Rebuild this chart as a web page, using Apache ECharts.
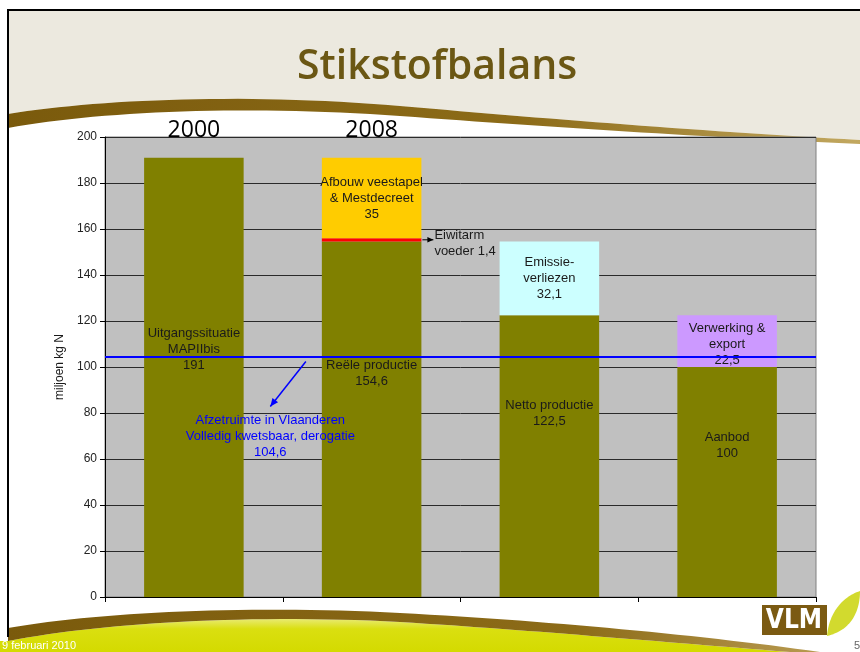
<!DOCTYPE html>
<html><head><meta charset="utf-8">
<script src="https://cdn.jsdelivr.net/npm/echarts@6/dist/echarts.min.js"></script>
<style>html,body{margin:0;padding:0;background:#fff}#c{width:860px;height:652px}</style>
</head><body><div id="c"></div>
<script>
// ---- data ----
const categories = ['Uitgangssituatie', 'Reële productie', 'Netto productie', 'Aanbod'];
const yearLabels = ['2000', '2008', '', ''];
const baseNames = ['Uitgangssituatie\nMAPIIbis', 'Reële productie', 'Netto productie', 'Aanbod'];
const baseValues = [191, 154.6, 122.5, 100];
const eiwitarmValues = ['-', 1.4, '-', '-'];
const afbouwValues = ['-', 35, '-', '-'];
const emissieValues = ['-', '-', 32.1, '-'];
const verwerkingValues = ['-', '-', '-', 22.5];
const afzetruimte = 104.6;
const yMin = 0, yMax = 200, yInterval = 20;

// ---- layout (pixels, not data) ----
const baseLabelShift = [-28, -46, -43, -37];

const fmt = v => String(v).replace('.', ',');
const FONT = '"Liberation Sans", Arial, sans-serif';
const labelBase = { show: true, color: '#1a1a1a', fontFamily: FONT, fontSize: 13, lineHeight: 16 };

const chart = echarts.init(document.getElementById('c'));

// decorative slide shapes: cubic bezier sampling
function bez(p0, p1, p2, p3, n) {
  const out = [];
  for (let k = 0; k <= n; k++) {
    const t = k / n, u = 1 - t;
    out.push([u*u*u*p0[0] + 3*u*u*t*p1[0] + 3*u*t*t*p2[0] + t*t*t*p3[0],
              u*u*u*p0[1] + 3*u*u*t*p1[1] + 3*u*t*t*p2[1] + t*t*t*p3[1]]);
  }
  return out;
}
function curve(pts) {
  let out = [pts[0]];
  for (let i = 1; i + 2 < pts.length; i += 3) {
    out = out.concat(bez(out[out.length - 1], pts[i], pts[i + 1], pts[i + 2], 30).slice(1));
  }
  return out;
}
const topUpper = curve([[8,114],[100,99],[250,93],[400,106],[550,119],[700,131],[860,140]]);
const topLower = curve([[8,128],[100,111],[250,105],[400,116],[550,127],[700,137],[860,144]]);
const botUpper = curve([[8,628],[100,612],[250,605],[400,613],[550,621],[700,635],[820,652]]);
const botLower = curve([[8,641],[100,623],[250,614],[400,622],[530,630],[650,641],[790,652]]);
const leaf = curve([[827,636],[829,613],[842,597],[860,591],[860,614],[849,631],[827,636]]);

const bg = [
  { type: 'polygon', z: -100, shape: { points: [[8,10],[860,10]].concat(topUpper.slice().reverse()) }, style: { fill: '#ECE9DF' } },
  { type: 'polygon', z: -99, shape: { points: topUpper.concat(topLower.slice().reverse()) },
    style: { fill: new echarts.graphic.LinearGradient(0, 0, 1, 0, [{ offset: 0, color: '#7A5A0C' }, { offset: 0.6, color: '#8C6B18' }, { offset: 1, color: '#C2A860' }]) } },
  { type: 'polygon', z: -100, shape: { points: botLower.concat([[0,652],[0,641]]) },
    style: { fill: new echarts.graphic.LinearGradient(0, 0, 0, 1, [{ offset: 0, color: '#E8EA70' }, { offset: 0.3, color: '#DADF10' }, { offset: 1, color: '#D4DA00' }]) } },
  { type: 'polygon', z: -99, shape: { points: botUpper.concat(botLower.slice().reverse()) },
    style: { fill: new echarts.graphic.LinearGradient(0, 0, 1, 0, [{ offset: 0, color: '#7A5A0C' }, { offset: 0.7, color: '#8C6B18' }, { offset: 1, color: '#B89A50' }]) } },
  { type: 'line', z: -90, shape: { x1: 8, y1: 10, x2: 8, y2: 637 }, style: { stroke: '#000', lineWidth: 2 } },
  { type: 'line', z: -90, shape: { x1: 7, y1: 10, x2: 860, y2: 10 }, style: { stroke: '#000', lineWidth: 2 } },
  { type: 'rect', z: -90, shape: { x: 762, y: 605, width: 65, height: 30 }, style: { fill: '#7B5A12' } },
  { type: 'text', z: -89, style: { x: 794, y: 621, text: 'VLM', fill: '#fff', font: 'bold 26px "Liberation Sans Narrow", "DejaVu Sans Condensed", sans-serif', textAlign: 'center', textVerticalAlign: 'middle' } },
  { type: 'polygon', z: -90, shape: { points: leaf }, style: { fill: '#D2DA2E' } },
  { type: 'text', z: -80, style: { x: 2, y: 646, text: '9 februari 2010', fill: '#fff', font: '11px "Liberation Sans Narrow", sans-serif', textVerticalAlign: 'middle' } },
  { type: 'text', z: -80, style: { x: 854, y: 646, text: '5', fill: '#666', font: '11px "Liberation Sans Narrow", sans-serif', textVerticalAlign: 'middle' } }
];

chart.setOption({
  animation: false,
  backgroundColor: '#fff',
  title: {
    text: 'Stikstofbalans', left: 292, top: 42,
    textStyle: { fontFamily: '"Open Sans", sans-serif', fontWeight: 600, fontSize: 41, color: '#6B5714' }
  },
  grid: { left: 105, right: 44, top: 137, bottom: 55, show: true, backgroundColor: '#C0C0C0', borderColor: '#808080', borderWidth: 1 },
  xAxis: [
    { type: 'category', data: categories, position: 'bottom',
      axisLine: { lineStyle: { color: '#000', width: 1 } },
      axisTick: { show: true, length: 5, lineStyle: { color: '#000' } },
      axisLabel: { show: false }, splitLine: { show: false } },
    { type: 'category', data: yearLabels, position: 'top',
      axisLine: { show: false }, axisTick: { show: false },
      axisLabel: { show: true, margin: -5, fontSize: 23, color: '#000', fontFamily: '"Open Sans", sans-serif' } }
  ],
  yAxis: {
    type: 'value', min: yMin, max: yMax, interval: yInterval,
    name: 'miljoen kg N', nameLocation: 'middle', nameGap: 35,
    nameTextStyle: { fontFamily: FONT, fontSize: 12, color: '#1a1a1a' },
    axisLine: { show: true, lineStyle: { color: '#000' } },
    axisTick: { show: true, length: 5, lineStyle: { color: '#000' } },
    axisLabel: { fontFamily: FONT, fontSize: 12, color: '#222', margin: 8 },
    splitLine: { show: true, lineStyle: { color: '#2a2a2a', width: 1 } }
  },
  series: [
    { name: 'Basis', type: 'bar', stack: 'n', barWidth: '56%', itemStyle: { color: '#808000' },
      data: baseValues.map((v, i) => ({ value: v, label: { offset: [0, baseLabelShift[i]] } })),
      label: Object.assign({}, labelBase, { position: 'inside', formatter: p => baseNames[p.dataIndex] + '\n' + fmt(p.value) }) },
    { name: 'Eiwitarm voeder', type: 'bar', stack: 'n', barWidth: '56%', itemStyle: { color: '#FF0000' },
      data: eiwitarmValues,
      label: Object.assign({}, labelBase, { position: 'right', distance: 13, offset: [0, 4], align: 'left', formatter: p => 'Eiwitarm\nvoeder ' + fmt(p.value) }) },
    { name: 'Afbouw veestapel', type: 'bar', stack: 'n', barWidth: '56%', itemStyle: { color: '#FFCC00' },
      data: afbouwValues,
      label: Object.assign({}, labelBase, { position: 'inside', formatter: p => 'Afbouw veestapel\n& Mestdecreet\n' + fmt(p.value) }) },
    { name: 'Emissieverliezen', type: 'bar', stack: 'n', barWidth: '56%', itemStyle: { color: '#CCFFFF' },
      data: emissieValues,
      label: Object.assign({}, labelBase, { position: 'inside', formatter: p => 'Emissie-\nverliezen\n' + fmt(p.value) }) },
    { name: 'Verwerking & export', type: 'bar', stack: 'n', barWidth: '56%', itemStyle: { color: '#CC99FF' },
      data: verwerkingValues,
      label: Object.assign({}, labelBase, { position: 'inside', offset: [0, 3], formatter: p => 'Verwerking &\nexport\n' + fmt(p.value) }) },
    { name: 'Afzetruimte', type: 'line', data: [], z: 10,
      markLine: { silent: true, symbol: 'none', label: { show: false },
        lineStyle: { color: '#0000FF', width: 2, type: 'solid' },
        data: [{ yAxis: afzetruimte }] } }
  ],
  graphic: bg
});

// ---- annotations placed through the chart's own scales ----
function arrow(x0, y0, x1, y1, color, w, size) {
  const a = Math.atan2(y1 - y0, x1 - x0);
  const p1 = [x1 - size * Math.cos(a) + size * 0.45 * Math.sin(a), y1 - size * Math.sin(a) - size * 0.45 * Math.cos(a)];
  const p2 = [x1 - size * Math.cos(a) - size * 0.45 * Math.sin(a), y1 - size * Math.sin(a) + size * 0.45 * Math.cos(a)];
  return [
    { type: 'line', z: 20, shape: { x1: x0, y1: y0, x2: x1, y2: y1 }, style: { stroke: color, lineWidth: w } },
    { type: 'polygon', z: 20, shape: { points: [[x1, y1], p1, p2] }, style: { fill: color } }
  ];
}
const cx = i => chart.convertToPixel({ xAxisIndex: 0 }, categories[i]);
const py = v => chart.convertToPixel({ yAxisIndex: 0 }, v);
const band = cx(1) - cx(0);
const half = band * 0.56 / 2;
const yRed = py(baseValues[1] + eiwitarmValues[1] / 2);
const yAfz = py(afzetruimte);
const ax = cx(0) + 0.43 * band;
const extra = []
  .concat(arrow(cx(1) + half + 1, yRed, cx(1) + half + 12, yRed, '#000', 1, 6))
  .concat(arrow(cx(0) + 0.63 * band, yAfz + 5, ax, yAfz + 50, '#0000FF', 1.5, 8))
  .concat([{ type: 'text', z: 20, style: { x: ax, y: yAfz + 80, text: 'Afzetruimte in Vlaanderen\nVolledig kwetsbaar, derogatie\n' + fmt(afzetruimte),
    fill: '#0000FF', font: '13px ' + FONT, lineHeight: 16, textAlign: 'center', textVerticalAlign: 'middle' } }]);
chart.setOption({ graphic: bg.concat(extra) });
</script></body></html>
